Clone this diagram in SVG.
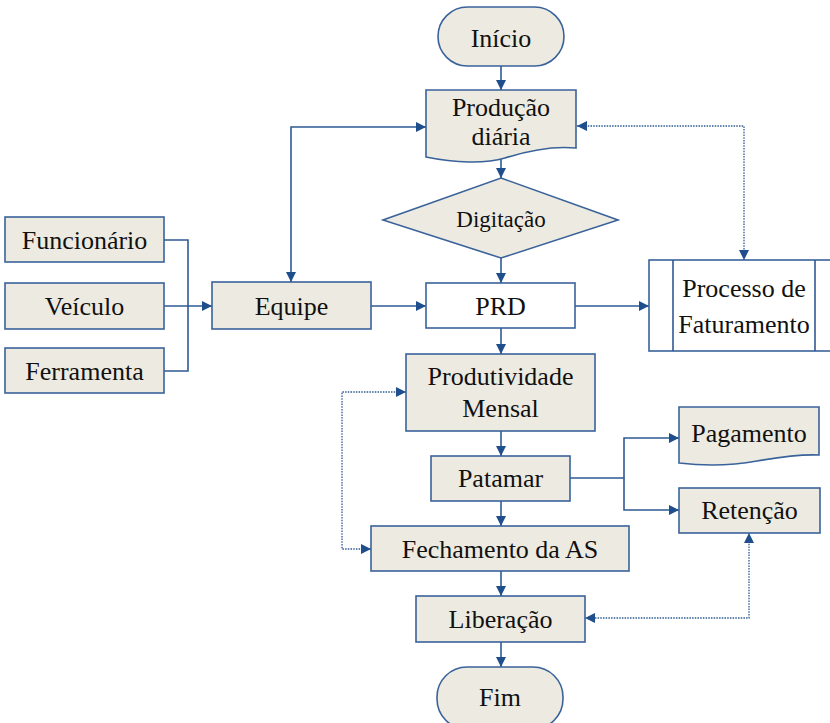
<svg xmlns="http://www.w3.org/2000/svg" width="830" height="723" viewBox="0 0 830 723">
<style>
.n{fill:#EDEBE1;stroke:#3A629A;stroke-width:1.6}
.w{fill:#FFFFFF;stroke:#3A629A;stroke-width:1.6}
.t{font-family:"Liberation Serif","Times New Roman",serif;font-size:26px;fill:#111111;text-anchor:middle}
.s{font-size:23px}
.c{fill:none;stroke:#2F5A94;stroke-width:1.6}
.d{fill:none;stroke:#2F5A94;stroke-width:1.3;stroke-dasharray:1.5 1.2}
</style>
<defs>
<marker id="a" viewBox="0 0 10 10" refX="10" refY="5" markerWidth="11" markerHeight="10" markerUnits="userSpaceOnUse" orient="auto-start-reverse">
<path d="M0,0 L10,5 L0,10 Z" fill="#1F4E8C"/>
</marker>
</defs>
<g id="connectors">
<path class="c" d="M501,66 V90" marker-end="url(#a)"/>
<path class="c" d="M501,158 V178" marker-end="url(#a)"/>
<path class="c" d="M501,258 V283" marker-end="url(#a)"/>
<path class="c" d="M291,282 V127 H426" marker-start="url(#a)" marker-end="url(#a)"/>
<path class="d" d="M577,126 H744 V260" marker-start="url(#a)" marker-end="url(#a)"/>
<path class="c" d="M164,240 H188 V371 H164"/>
<path class="c" d="M164,306 H212" marker-end="url(#a)"/>
<path class="c" d="M371,306 H426" marker-end="url(#a)"/>
<path class="c" d="M575,306 H649" marker-end="url(#a)"/>
<path class="c" d="M501,328 V354" marker-end="url(#a)"/>
<path class="c" d="M501,431 V456" marker-end="url(#a)"/>
<path class="c" d="M501,501 V526" marker-end="url(#a)"/>
<path class="c" d="M501,571 V596" marker-end="url(#a)"/>
<path class="c" d="M501,642 V667" marker-end="url(#a)"/>
<path class="d" d="M406,392 H342 V549 H371" marker-start="url(#a)" marker-end="url(#a)"/>
<path class="c" d="M570,478 H624 V438 H679" marker-end="url(#a)"/>
<path class="c" d="M624,478 V510 H679" marker-end="url(#a)"/>
<path class="d" d="M749,533 V618 H585" marker-start="url(#a)" marker-end="url(#a)"/>
</g>
<g id="inicio">
<rect class="n" x="438" y="7" width="126" height="59" rx="29.5"/>
<text class="t" x="501" y="47">Início</text>
</g>
<g id="producao">
<path class="n" d="M426,90 H576 V148 C556,146 530,150 505,158 C485,164 455,163 426,157 Z"/>
<text class="t" x="501" y="116">Produção</text>
<text class="t" x="501" y="145">diária</text>
</g>
<g id="digitacao">
<path class="n" d="M501,178 L618,220 L501,258 L383,220 Z"/>
<text class="t s" x="501" y="227">Digitação</text>
</g>
<g id="funcionario">
<rect class="n" x="5" y="217" width="159" height="45"/>
<text class="t" x="84.5" y="249">Funcionário</text>
</g>
<g id="veiculo">
<rect class="n" x="5" y="283" width="159" height="46"/>
<text class="t" x="84.5" y="315">Veículo</text>
</g>
<g id="ferramenta">
<rect class="n" x="5" y="348" width="159" height="45"/>
<text class="t" x="84.5" y="380">Ferramenta</text>
</g>
<g id="equipe">
<rect class="n" x="212" y="282" width="159" height="47"/>
<text class="t" x="291.5" y="315">Equipe</text>
</g>
<g id="prd">
<rect class="w" x="426" y="283" width="149" height="45"/>
<text class="t" x="500.5" y="315">PRD</text>
</g>
<g id="faturamento">
<rect class="w" x="649" y="260" width="191" height="91"/>
<path class="c" d="M673,260 V351 M815,260 V351"/>
<text class="t" x="744" y="297">Processo de</text>
<text class="t" x="744" y="333">Faturamento</text>
</g>
<g id="produtividade">
<rect class="n" x="406" y="354" width="189" height="77"/>
<text class="t" x="500.5" y="385">Produtividade</text>
<text class="t" x="500.5" y="417">Mensal</text>
</g>
<g id="patamar">
<rect class="n" x="431" y="456" width="139" height="45"/>
<text class="t" x="500.5" y="487">Patamar</text>
</g>
<g id="pagamento">
<path class="n" d="M679,407 H819 V455 C800,454 780,457 757,461 C735,465 705,466 679,463 Z"/>
<text class="t" x="749" y="442">Pagamento</text>
</g>
<g id="retencao">
<rect class="n" x="679" y="488" width="141" height="45"/>
<text class="t" x="749.5" y="519">Retenção</text>
</g>
<g id="fechamento">
<rect class="n" x="371" y="526" width="258" height="45"/>
<text class="t" x="500" y="558">Fechamento da AS</text>
</g>
<g id="liberacao">
<rect class="n" x="416" y="596" width="169" height="46"/>
<text class="t" x="500.5" y="628">Liberação</text>
</g>
<g id="fim">
<rect class="n" x="437" y="667" width="126" height="62" rx="30"/>
<text class="t" x="500" y="706">Fim</text>
</g>
</svg>
